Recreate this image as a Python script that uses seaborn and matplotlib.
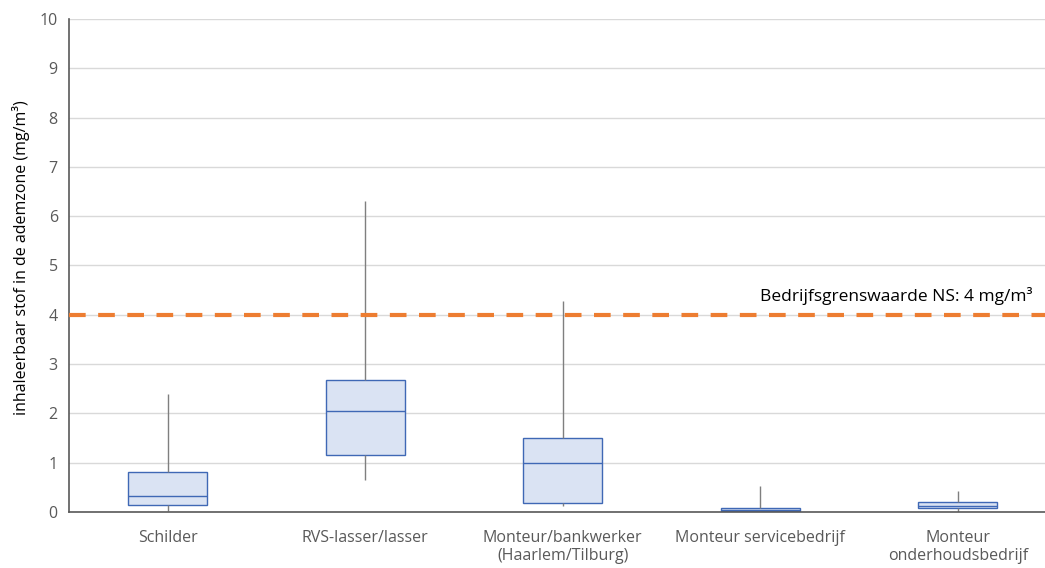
import pandas as pd
import matplotlib
matplotlib.use("Agg")
import matplotlib.pyplot as plt
import seaborn as sns

# five-number summaries (min, q1, median, q3, max)
categories = ["Schilder", "RVS-lasser/lasser", "Monteur/bankwerker\n(Haarlem/Tilburg)",
              "Monteur servicebedrijf", "Monteur\nonderhoudsbedrijf"]
mins = [0.03, 0.65, 0.13, 0.0, 0.0]
q1s = [0.15, 1.16, 0.19, 0.02, 0.08]
medians = [0.32, 2.04, 0.99, 0.04, 0.12]
q3s = [0.81, 2.68, 1.51, 0.08, 0.20]
maxs = [2.39, 6.31, 4.27, 0.53, 0.43]
limit_value = 4.0
limit_label = "Bedrijfsgrenswaarde NS: 4 mg/m³"

rows = []
for cat, a, b, c, d, e in zip(categories, mins, q1s, medians, q3s, maxs):
    for v in (a, b, c, d, e):
        rows.append({"Functie": cat, "Waarde": v})
df = pd.DataFrame(rows)

sns.set_theme(style="white")
plt.rcParams['font.family'] = ['Open Sans', 'DejaVu Sans']

fig = plt.figure(figsize=(10.45, 5.68), dpi=100)
# plot area runs slightly past the right edge of the image, as in the original
ax = fig.add_axes([0.066, 0.0986, 0.945, 0.868])

sns.boxplot(data=df, x="Functie", y="Waarde", ax=ax, whis=(0, 100), width=0.4,
            color="#DAE3F3", saturation=1, linecolor="#3F68B5", linewidth=1.0,
            showcaps=False,
            whiskerprops={"color": "#7F7F7F", "linewidth": 1.0},
            medianprops={"color": "#3F68B5", "linewidth": 1.0})

ax.axhline(limit_value, color="#ED7D31", linestyle=(0, (4, 3)), linewidth=3, zorder=3)
ax.text(4.38, limit_value + 0.2, limit_label, ha="right", va="bottom",
        fontsize=12.5, color="black")

ax.set_ylim(0, 10)
ax.set_xlim(-0.5, 4.5)
ax.set_yticks(range(0, 11))
ax.yaxis.grid(True, color="#D9D9D9", linewidth=1)
ax.set_axisbelow(True)
ax.set_xlabel("")
ax.set_ylabel("inhaleerbaar stof in de ademzone (mg/m³)", fontsize=11.5, color="black")
ax.yaxis.set_label_coords(-0.039, 0.516)
ax.tick_params(axis="both", length=0, labelsize=11.5, colors="#595959", pad=8)
ax.tick_params(axis="x", pad=13)
for s in ("top", "right"):
    ax.spines[s].set_visible(False)
for s in ("left", "bottom"):
    ax.spines[s].set_color("#595959")
    ax.spines[s].set_linewidth(1.2)

fig.savefig("out.png", dpi=100)
